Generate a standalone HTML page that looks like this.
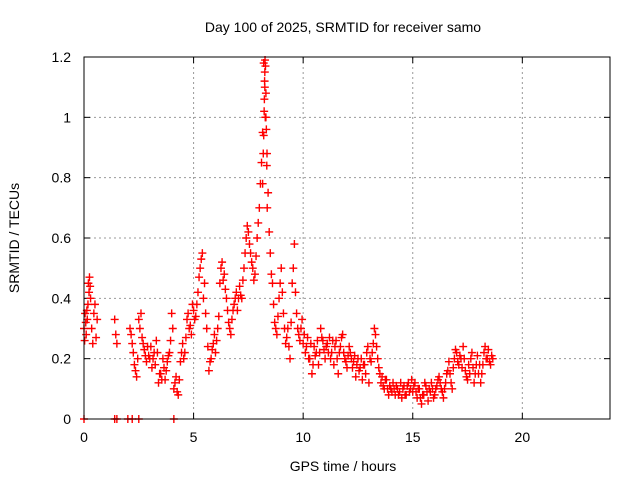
<!DOCTYPE html>
<html><head><meta charset="utf-8"><style>
body{margin:0;background:#fff}
svg{display:block;font-family:"Liberation Sans",sans-serif;font-size:14px}
</style></head><body>
<svg id="chart" width="640" height="480">
<text x="343" y="32" text-anchor="middle">Day 100 of 2025, SRMTID for receiver samo</text>
<text x="343" y="471" text-anchor="middle">GPS time / hours</text>
<text transform="translate(19,238) rotate(-90)" text-anchor="middle">SRMTID / TECUs</text>
<g id="grid"></g><g id="ticks"></g><g id="marks"></g>
<rect x="84" y="57" width="526" height="362" fill="none" stroke="#000"/>
</svg>
<script>
const xTicks=[0,5,10,15,20];
const yTicks=[0,0.2,0.4,0.6,0.8,1,1.2];
const yTickLabels=["0","0.2","0.4","0.6","0.8","1","1.2"];
const zeroTimes=[0,1.4,1.5,2.0,2.2,2.5,4.1];
const seg1Times=[0,0.03,0.05,0.08,0.1,0.13,0.15,0.18,0.2,0.23,0.25,0.28,0.3,0.35,0.4,0.45,0.5,0.55,0.6];
const seg1Values=[0.30,0.26,0.35,0.32,0.28,0.36,0.33,0.38,0.45,0.42,0.47,0.44,0.40,0.30,0.25,0.35,0.38,0.27,0.33];
const seg2Times=[1.4,1.45,1.5];
const seg2Values=[0.33,0.28,0.25];
const seg3Start=2.1, seg3Step=0.1;
const seg3Values=[0.30,0.25,0.18,0.14,0.33,0.35,0.25,0.21,0.24,0.20,
0.17,0.22,0.26,0.12,0.15,0.20,0.13,0.19,0.22,0.35,
0.10,0.14,0.08,0.19,0.25,0.22,0.33,0.30,0.28,0.36,
0.34,0.42,0.50,0.55,0.45,0.30,0.16,0.20,0.25,0.22,
0.30,0.45,0.52,0.48,0.40,0.32,0.28,0.36,0.40,0.36,
0.44,0.40,0.50,0.60,0.62,0.55,0.50,0.48,0.60,0.70,
0.85,1.18,1.00,0.75,0.55,0.45,0.32,0.28,0.40,0.50,
0.35,0.25,0.30,0.20,0.45,0.58,0.35,0.28,0.30,0.25,
0.22,0.27,0.20,0.15,0.24,0.22,0.18,0.30,0.26,0.20,
0.25,0.27,0.22,0.18,0.26,0.15,0.24,0.28,0.20,0.17,
0.24,0.20,0.19,0.14,0.20,0.17,0.13,0.18,0.22,0.12,
0.19,0.25,0.28,0.20,0.15,0.14,0.10,0.13,0.08,0.10,
0.12,0.08,0.10,0.09,0.07,0.11,0.08,0.12,0.10,0.09,
0.12,0.07,0.10,0.05,0.08,0.11,0.06,0.09,0.10,0.08,
0.11,0.14,0.10,0.07,0.12,0.16,0.15,0.10,0.20,0.22,
0.18,0.20,0.24,0.16,0.13,0.15,0.22,0.12,0.18,0.15,
0.12,0.18,0.24,0.20,0.19,0.21];
const seg4Start=2.15, seg4Step=0.1;
const seg4Values=[0.28,0.22,0.16,0.20,0.30,0.27,0.23,0.19,0.21,0.24,
0.20,0.18,0.22,0.15,0.13,0.17,0.16,0.21,0.26,0.30,
0.12,0.09,0.13,0.22,0.20,0.27,0.35,0.31,0.38,0.33,
0.38,0.47,0.53,0.40,0.35,0.24,0.19,0.23,0.28,0.26,
0.34,0.50,0.46,0.43,0.36,0.30,0.33,0.38,0.42,0.40,
0.41,0.46,0.55,0.64,0.58,0.52,0.46,0.54,0.65,0.78,
0.95,1.10,0.88,0.62,0.48,0.38,0.30,0.34,0.45,0.42,
0.30,0.27,0.24,0.32,0.50,0.42,0.30,0.26,0.33,0.28,
0.24,0.20,0.25,0.18,0.21,0.26,0.22,0.27,0.23,0.24,
0.22,0.20,0.26,0.24,0.20,0.22,0.27,0.22,0.19,0.21,
0.22,0.17,0.21,0.18,0.16,0.20,0.18,0.15,0.24,0.20,
0.22,0.30,0.24,0.17,0.12,0.11,0.13,0.10,0.11,0.09,
0.10,0.11,0.08,0.12,0.10,0.08,0.11,0.09,0.13,0.11,
0.09,0.10,0.07,0.08,0.12,0.09,0.10,0.12,0.07,0.10,
0.13,0.12,0.09,0.10,0.15,0.19,0.12,0.17,0.23,0.19,
0.21,0.17,0.20,0.14,0.18,0.20,0.17,0.15,0.21,0.18,
0.15,0.22,0.20,0.23,0.18,0.20];
const spikeTimes=[8.15,8.18,8.2,8.22,8.24,8.26,8.28,8.3,8.32,8.34,8.36,8.25,8.23,8.27];
const spikeValues=[0.78,0.88,0.94,1.02,1.12,1.19,1.17,1.08,0.96,0.84,0.70,1.15,1.06,1.00];
const NS="http://www.w3.org/2000/svg";
const X0=84,X1=610,Y0=419,Y1=57;
function xs(v){return X0+(v/24)*(X1-X0);}
function ys(v){return Y0-(v/1.2)*(Y0-Y1);}
function mk(t,a,p){const e=document.createElementNS(NS,t);for(const k in a)e.setAttribute(k,a[k]);p.appendChild(e);return e;}
const grid=document.getElementById('grid'),ticks=document.getElementById('ticks'),marks=document.getElementById('marks');
xTicks.forEach(t=>{const x=xs(t);
 if(t>0){const g=mk('line',{x1:x,x2:x,y1:Y1,y2:Y0,stroke:'#999','stroke-dasharray':'2,3'},grid);
 
 }
 mk('line',{x1:x,x2:x,y1:Y0,y2:Y0-6,stroke:'#000'},ticks);
 mk('line',{x1:x,x2:x,y1:Y1,y2:Y1+6,stroke:'#000'},ticks);
 const l=mk('text',{x:x,y:442,'text-anchor':'middle'},ticks);l.textContent=t;
 
 });
yTicks.forEach((t,i)=>{const y=ys(t);
 if(t>0&&t<1.2){const g=mk('line',{x1:X0,x2:X1,y1:y,y2:y,stroke:'#999','stroke-dasharray':'2,3'},grid);
 
 }
 mk('line',{x1:X0,x2:X0+6,y1:y,y2:y,stroke:'#000'},ticks);
 mk('line',{x1:X1,x2:X1-6,y1:y,y2:y,stroke:'#000'},ticks);
 const l=mk('text',{x:71,y:y+5,'text-anchor':'end'},ticks);l.textContent=yTickLabels[i];
 
 });
function plus(t,v){const x=xs(t),y=ys(v);
 const p=mk('path',{d:`M${x-4},${y}h8M${x},${y-4}v8`,stroke:'#f00','stroke-width':1.4,fill:'none'},marks);
 
 }
zeroTimes.forEach(t=>plus(t,0));
seg1Times.forEach((t,i)=>plus(t,seg1Values[i]));
seg2Times.forEach((t,i)=>plus(t,seg2Values[i]));
seg3Values.forEach((v,i)=>plus(seg3Start+i*seg3Step,v));
seg4Values.forEach((v,i)=>plus(seg4Start+i*seg4Step,v));
spikeTimes.forEach((t,i)=>plus(t,spikeValues[i]));
</script>
</body></html>
